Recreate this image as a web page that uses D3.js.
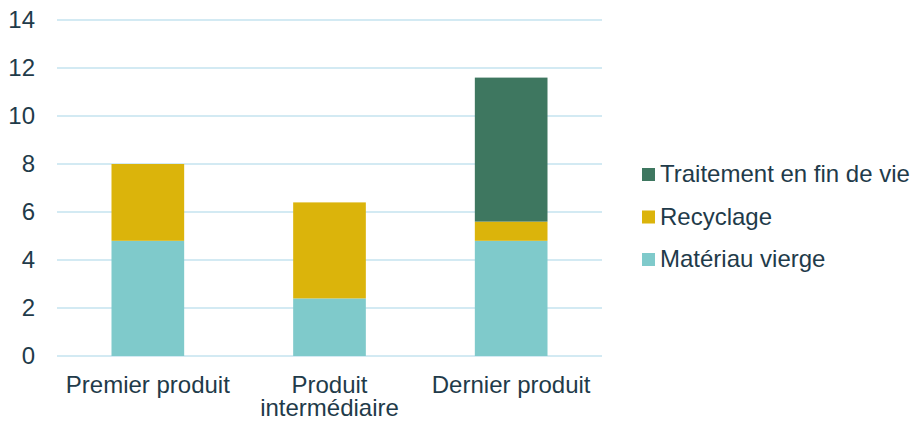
<!DOCTYPE html>
<html>
<head>
<meta charset="utf-8">
<script src="https://cdn.jsdelivr.net/npm/d3@7"></script>
<style>
  body { margin: 0; background: #fff; }
  svg text { font-family: "Liberation Sans", Arial, sans-serif; fill: #1f3b4a; }
</style>
</head>
<body>
<svg id="chart" width="913" height="423"></svg>
<script>
// categories (x axis) - wrapped lines for the labels
let categories = ["Premier produit", "Produit intermédiaire", "Dernier produit"];
let categoryLines = [["Premier produit"], ["Produit", "intermédiaire"], ["Dernier produit"]];

// series, bottom to top
let seriesNames = ["Matériau vierge", "Recyclage", "Traitement en fin de vie"];
let materiauVierge = [4.8, 2.4, 4.8];
let recyclage = [3.2, 4.0, 0.8];
let traitement = [0, 0, 6.0];
let yTicks = [0, 2, 4, 6, 8, 10, 12, 14];

let colors = ["#7fcacb", "#dbb40b", "#3e7760"];

let plot = { left: 57, right: 602, top: 20, bottom: 356 };
let fontSize = 24;

let svg = d3.select("#chart");

let x = d3.scaleBand()
  .domain(categories)
  .range([plot.left, plot.right])
  .paddingInner(0.6)
  .paddingOuter(0.3);

let y = d3.scaleLinear()
  .domain([0, 14])
  .range([plot.bottom, plot.top]);

// gridlines
svg.append("g")
  .selectAll("line")
  .data(yTicks)
  .join("line")
    .attr("x1", plot.left)
    .attr("x2", plot.right)
    .attr("y1", d => y(d))
    .attr("y2", d => y(d))
    .attr("stroke", "#d3eaf3")
    .attr("stroke-width", 2);

// y axis labels
let yAxis = d3.axisLeft(y).tickValues(yTicks).tickSize(0).tickPadding(0);
let yg = svg.append("g")
  .attr("transform", "translate(35,0)")
  .call(yAxis);
yg.select(".domain").remove();
yg.selectAll("text")
  .attr("font-size", fontSize)
  .attr("fill", "#1f3b4a")
  .style("font-family", "'Liberation Sans', Arial, sans-serif");

// stacked bars
let table = categories.map((c, i) => ({
  cat: c,
  "Matériau vierge": materiauVierge[i],
  "Recyclage": recyclage[i],
  "Traitement en fin de vie": traitement[i]
}));
let stack = d3.stack().keys(seriesNames)(table);

svg.append("g")
  .selectAll("g")
  .data(stack)
  .join("g")
    .attr("fill", (d, i) => colors[i])
  .selectAll("rect")
  .data(d => d.filter(p => p[1] - p[0] > 0))
  .join("rect")
    .attr("x", d => x(d.data.cat))
    .attr("width", x.bandwidth())
    .attr("y", d => y(d[1]))
    .attr("height", d => y(d[0]) - y(d[1]));

// x axis labels
let xg = svg.append("g");
categories.forEach((c, i) => {
  let cx = x(c) + x.bandwidth() / 2;
  let t = xg.append("text")
    .attr("x", cx)
    .attr("y", 393)
    .attr("text-anchor", "middle")
    .attr("font-size", fontSize);
  categoryLines[i].forEach((line, j) => {
    t.append("tspan")
      .attr("x", cx)
      .attr("dy", j === 0 ? 0 : 23)
      .text(line);
  });
});

// legend, top entry first
let legendOrder = [2, 1, 0];
let legend = svg.append("g");
legendOrder.forEach((s, k) => {
  let ly = 168 + k * 42.5;
  legend.append("rect")
    .attr("x", 642)
    .attr("y", ly)
    .attr("width", 13)
    .attr("height", 13)
    .attr("fill", colors[s]);
  legend.append("text")
    .attr("x", 660)
    .attr("y", ly + 14)
    .attr("font-size", fontSize)
    .text(seriesNames[s]);
});
</script>
</body>
</html>
